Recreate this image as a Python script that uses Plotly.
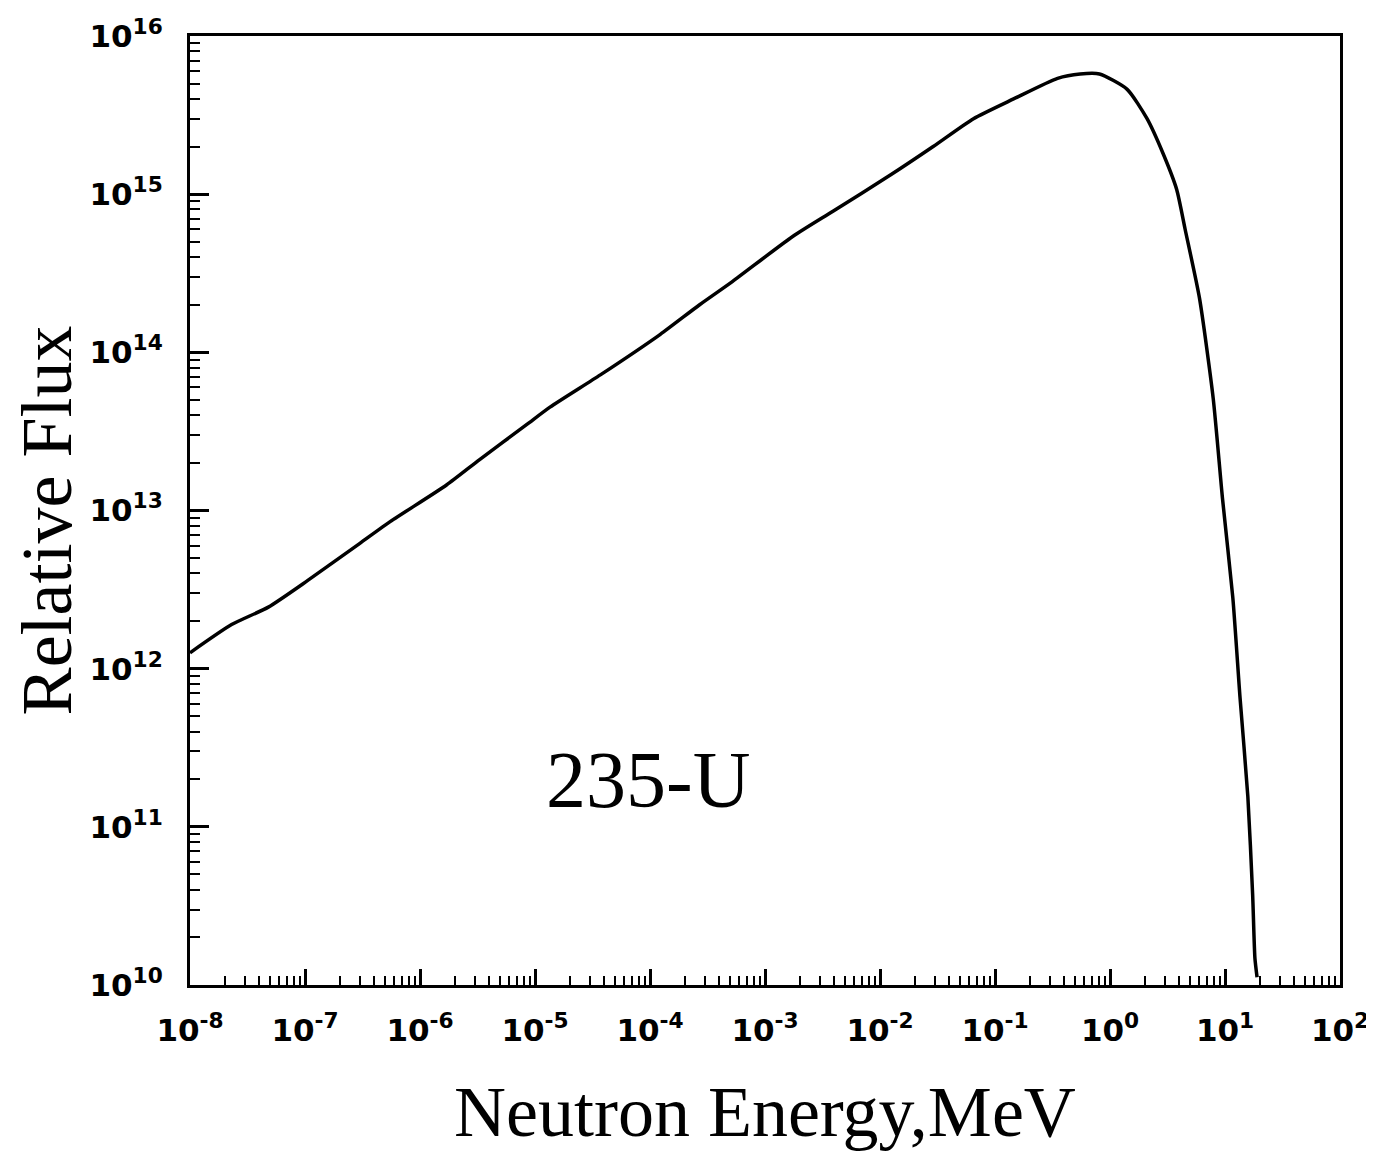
import plotly.graph_objects as go

# Neutron energy (MeV) and relative flux
energy = [1.0e-8, 2.3e-8, 4.8e-8, 1.05e-7, 3.0e-7, 5.5e-7, 1.7e-6, 3.3e-6, 8.5e-6,
          1.35e-5, 3.7e-5, 1.23e-4, 2.7e-4, 5.2e-4, 1.74e-3, 3.9e-3, 1.23e-2, 2.9e-2,
          6.5e-2, 1.45e-1, 3.5e-1, 5.5e-1, 8.1e-1, 1.41, 2.1, 2.9, 3.8, 4.5, 6.0,
          7.9, 9.5, 11.7, 13.5, 15.8, 17.4, 18.2, 19.0]
flux = [1.26e12, 1.9e12, 2.45e12, 3.6e12, 6.2e12, 8.5e12, 1.45e13, 2.1e13, 3.5e13,
        4.5e13, 7.2e13, 1.3e14, 2.0e14, 2.8e14, 5.4e14, 7.8e14, 1.32e15, 2.0e15,
        3.0e15, 4.0e15, 5.4e15, 5.75e15, 5.75e15, 4.6e15, 3.0e15, 1.8e15, 1.07e15,
        6.0e14, 2.2e14, 5.1e13, 1.2e13, 2.8e12, 6.6e11, 1.55e11, 3.7e10, 1.48e10, 1.12e10]

x_tick_vals = [1e-8, 1e-7, 1e-6, 1e-5, 1e-4, 1e-3, 1e-2, 1e-1, 1e0, 1e1, 1e2]
x_tick_text = ["10<sup>-8</sup>", "10<sup>-7</sup>", "10<sup>-6</sup>", "10<sup>-5</sup>",
               "10<sup>-4</sup>", "10<sup>-3</sup>", "10<sup>-2</sup>", "10<sup>-1</sup>",
               "10<sup>0</sup>", "10<sup>1</sup>", "10<sup>2</sup>"]
y_tick_vals = [1e10, 1e11, 1e12, 1e13, 1e14, 1e15, 1e16]
y_tick_text = ["10<sup>10</sup>", "10<sup>11</sup>", "10<sup>12</sup>", "10<sup>13</sup>",
               "10<sup>14</sup>", "10<sup>15</sup>", "10<sup>16</sup>"]

fig = go.Figure()
fig.add_trace(go.Scatter(x=energy, y=flux, mode="lines",
                         line=dict(color="black", width=3.5, shape="spline", smoothing=0.6),
                         showlegend=False))

tickfont = dict(family="DejaVu Sans, Arial, sans-serif", size=31, color="black", weight=700)
serif = "Liberation Serif, Times New Roman, serif"

fig.update_layout(
    width=1374, height=1156,
    margin=dict(l=182, r=42, t=28, b=179, autoexpand=False),
    paper_bgcolor="white", plot_bgcolor="white",
    xaxis=dict(type="log", range=[-8, 2], tickmode="array",
               tickvals=x_tick_vals, ticktext=x_tick_text,
               ticks="inside", ticklen=16, tickwidth=2.5, tickcolor="black",
               showline=True, linecolor="black", linewidth=3, mirror=True,
               showgrid=False, zeroline=False, tickfont=tickfont,
               ticklabelstandoff=16,
               minor=dict(ticks="inside", ticklen=9, tickwidth=2, tickcolor="black",
                          dtick="D1", showgrid=False)),
    yaxis=dict(type="log", range=[10, 16], tickmode="array",
               tickvals=y_tick_vals, ticktext=y_tick_text,
               ticks="inside", ticklen=19, tickwidth=2.5, tickcolor="black",
               showline=True, linecolor="black", linewidth=3, mirror=True,
               showgrid=False, zeroline=False, tickfont=tickfont,
               ticklabelstandoff=18,
               minor=dict(ticks="inside", ticklen=10, tickwidth=2, tickcolor="black",
                          dtick="D1", showgrid=False)),
    annotations=[
        dict(text="Relative Flux", xref="paper", yref="paper", x=-0.124, y=0.49,
             textangle=-90, showarrow=False, xanchor="center", yanchor="middle",
             font=dict(family=serif, size=72, color="black")),
        dict(text="Neutron Energy,MeV", xref="paper", yref="paper", x=0.5, y=-0.134,
             showarrow=False, xanchor="center", yanchor="middle",
             font=dict(family=serif, size=72, color="black")),
        dict(text="235-U", xref="paper", yref="paper", x=0.398, y=0.216,
             showarrow=False, xanchor="center", yanchor="middle",
             font=dict(family=serif, size=80, color="black")),
    ],
)

fig.write_html("out.html")
